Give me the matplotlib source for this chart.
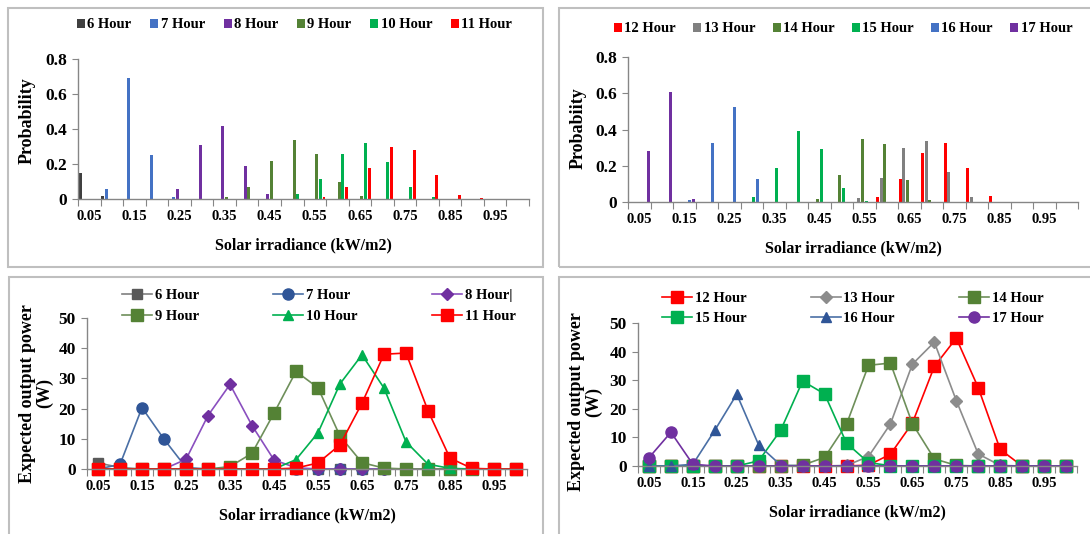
import matplotlib
matplotlib.use("Agg")
import matplotlib.pyplot as plt
from matplotlib.patches import Rectangle
import numpy as np

plt.rcParams['font.family'] = ['Liberation Serif', 'DejaVu Serif']
plt.rcParams['font.weight'] = 'bold'

# solar irradiance categories (kW/m2)
irr = ["0.05", "0.10", "0.15", "0.20", "0.25", "0.30", "0.35", "0.40", "0.45", "0.50",
       "0.55", "0.60", "0.65", "0.70", "0.75", "0.80", "0.85", "0.90", "0.95", "1.00"]

# probability, morning hours
prob_6 = [0.15, 0.02, 0, 0, 0, 0, 0, 0, 0, 0, 0, 0, 0, 0, 0, 0, 0, 0, 0, 0]
prob_7 = [0, 0.06, 0.69, 0.25, 0.01, 0, 0, 0, 0, 0, 0, 0, 0, 0, 0, 0, 0, 0, 0, 0]
prob_8 = [0, 0, 0, 0, 0.06, 0.31, 0.42, 0.19, 0.03, 0, 0, 0, 0, 0, 0, 0, 0, 0, 0, 0]
prob_9 = [0, 0, 0, 0, 0, 0, 0.01, 0.07, 0.22, 0.34, 0.26, 0.095, 0.015, 0, 0, 0, 0, 0, 0, 0]
prob_10 = [0, 0, 0, 0, 0, 0, 0, 0, 0, 0.03, 0.115, 0.26, 0.32, 0.21, 0.07, 0.01, 0, 0, 0, 0]
prob_11 = [0, 0, 0, 0, 0, 0, 0, 0, 0, 0, 0.01, 0.07, 0.18, 0.30, 0.28, 0.135, 0.025, 0.003, 0.002, 0]

# probability, afternoon hours
prob_12 = [0, 0, 0, 0, 0, 0, 0, 0, 0, 0, 0, 0.03, 0.125, 0.27, 0.325, 0.19, 0.035, 0, 0, 0]
prob_13 = [0, 0, 0, 0, 0, 0, 0, 0, 0, 0, 0.02, 0.13, 0.30, 0.335, 0.165, 0.025, 0, 0, 0, 0]
prob_14 = [0, 0, 0, 0, 0, 0, 0, 0, 0.015, 0.15, 0.345, 0.32, 0.12, 0.01, 0, 0, 0, 0, 0, 0]
prob_15 = [0, 0, 0, 0, 0, 0.025, 0.185, 0.39, 0.295, 0.08, 0.005, 0, 0, 0, 0, 0, 0, 0, 0, 0]
prob_16 = [0, 0, 0.01, 0.325, 0.525, 0.125, 0, 0, 0, 0, 0, 0, 0, 0, 0, 0, 0, 0, 0, 0]
prob_17 = [0.28, 0.605, 0.015, 0, 0, 0, 0, 0, 0, 0, 0, 0, 0, 0, 0, 0, 0, 0, 0, 0]

# expected output power (W), morning hours
pow_6 = [2.0, 0.5, 0, 0, 0, 0, 0, 0, 0, 0, 0, 0, 0, 0, 0, 0, 0, 0, 0, 0]
pow_7 = [0, 1.5, 20.3, 9.9, 0.5, 0, 0, 0, 0, 0, 0, 0, 0, 0, 0, 0, 0, 0, 0, 0]
pow_8 = [0, 0, 0, 0, 3.2, 17.7, 28.0, 14.4, 3.0, 0.4, 0, 0, 0, 0, 0, 0, 0, 0, 0, 0]
pow_9 = [0, 0, 0, 0, 0, 0, 0.8, 5.2, 18.5, 32.3, 26.9, 10.9, 2.1, 0.3, 0, 0, 0, 0, 0, 0]
pow_10 = [0, 0, 0, 0, 0, 0, 0, 0, 0, 3.1, 12.0, 28.2, 37.8, 26.8, 9.0, 1.6, 0.2, 0, 0, 0]
pow_11 = [0, 0, 0, 0, 0, 0, 0, 0, 0, 0.3, 2.0, 8.0, 21.8, 38.0, 38.4, 19.3, 3.6, 0.2, 0, 0]

# expected output power (W), afternoon hours
pow_12 = [0, 0, 0, 0, 0, 0, 0, 0, 0, 0, 0.3, 4.1, 15.0, 34.8, 44.7, 27.4, 5.8, 0, 0, 0]
pow_13 = [0, 0, 0, 0, 0, 0, 0, 0, 0, 0.2, 3.3, 14.7, 35.6, 43.3, 22.9, 4.2, 0.2, 0, 0, 0]
pow_14 = [0, 0, 0, 0, 0, 0, 0, 0.3, 3.0, 14.6, 35.2, 36.0, 14.8, 2.5, 0.2, 0, 0, 0, 0, 0]
pow_15 = [0, 0, 0, 0, 0, 1.8, 12.5, 29.7, 25.2, 8.0, 1.2, 0.1, 0, 0, 0, 0, 0, 0, 0, 0]
pow_16 = [0, 0, 0.6, 12.5, 25.1, 7.3, 0.3, 0, 0, 0, 0, 0, 0, 0, 0, 0, 0, 0, 0, 0]
pow_17 = [2.9, 11.8, 0.6, 0, 0, 0, 0, 0, 0, 0, 0, 0, 0, 0, 0, 0, 0, 0, 0, 0]

W, H = 1090, 534
fig = plt.figure(figsize=(W / 100, H / 100), dpi=100)


def frac(left, top, right, bottom):
    return [left / W, 1 - bottom / H, (right - left) / W, (bottom - top) / H]


# panel frames
for l, t, r, b in [(8, 8, 543, 267), (559, 8, 1095, 267), (9, 277, 543, 540), (559, 277, 1095, 540)]:
    fig.add_artist(Rectangle((l / W, 1 - b / H), (r - l) / W, (b - t) / H, transform=fig.transFigure,
                             fill=False, edgecolor='#BFBFBF', linewidth=1.5, zorder=0))

GRID = '#868686'
FS = 10.5


def style_axes(ax, ymax, ystep, fmt):
    n = len(irr)
    ax.set_xlim(-0.5, n - 0.5)
    ax.set_ylim(0, ymax)
    for s in ['top', 'right']:
        ax.spines[s].set_visible(False)
    for s in ['left', 'bottom']:
        ax.spines[s].set_color(GRID)
        ax.spines[s].set_linewidth(1.0)
    ax.set_xticks(np.arange(-0.5, n, 1.0))
    ax.set_xticklabels([])
    ax.set_xticks(np.arange(0, n, 2), minor=True)
    ax.set_xticklabels(irr[0::2], minor=True, fontsize=FS, fontweight='bold')
    ax.tick_params(axis='x', which='major', length=5, color=GRID, direction='out')
    ax.tick_params(axis='x', which='minor', length=0, pad=8)
    yt = np.arange(0, ymax + 1e-9, ystep)
    ax.set_yticks(yt)
    ax.set_yticklabels([fmt(v) for v in yt], fontsize=12.5, fontweight='bold')
    ax.tick_params(axis='y', length=4, color=GRID, direction='out', pad=4)
    ax.set_xlabel("Solar irradiance (kW/m2)", fontsize=11.5, fontweight='bold', labelpad=10)


def pfmt(v):
    return "0" if v == 0 else "%.1f" % v


def wfmt(v):
    return "%d" % v


def bars(ax, series, labels, colors):
    x = np.arange(len(irr))
    k = len(series)
    step = 0.98 / k
    for i, (vals, lab, c) in enumerate(zip(series, labels, colors)):
        ax.bar(x - 0.49 + step * (i + 0.5), vals, width=step * 0.8, color=c, label=lab,
               edgecolor='none')


def lines(ax, series, labels, colors, lcolors, markers, msizes):
    x = np.arange(len(irr))
    for vals, lab, c, lc, m, ms in zip(series, labels, colors, lcolors, markers, msizes):
        ax.plot(x, vals, color=lc, linewidth=1.2, marker=m, markersize=ms,
                markerfacecolor=c, markeredgecolor=c, label=lab, clip_on=False)


def row_major(ax, ncol):
    # matplotlib fills legend columns first; reorder so entries read across rows
    h, l = ax.get_legend_handles_labels()
    nrow = int(np.ceil(len(h) / ncol))
    order = [r * ncol + c for c in range(ncol) for r in range(nrow)]
    return [h[i] for i in order], [l[i] for i in order]


# top-left: probability, 6-11 h
ax1 = fig.add_axes(frac(78, 59, 529, 199))
bars(ax1, [prob_6, prob_7, prob_8, prob_9, prob_10, prob_11],
     ["6 Hour", "7 Hour", "8 Hour", "9 Hour", "10 Hour", "11 Hour"],
     ['#404040', '#4472C4', '#7030A0', '#548235', '#00B050', '#FF0000'])
style_axes(ax1, 0.8, 0.2, pfmt)
ax1.set_ylabel("Probability", fontsize=13, fontweight='bold')
ax1.yaxis.set_label_coords(-0.093, 0.557)
fig.legend(*ax1.get_legend_handles_labels(), loc='center left', bbox_to_anchor=(77 / W, 1 - 25 / H),
           ncol=6, frameon=False, fontsize=10.5, handlelength=0.55, handleheight=0.55,
           handletextpad=0.15, columnspacing=1.3, borderpad=0, borderaxespad=0)

# top-right: probability, 12-17 h
ax2 = fig.add_axes(frac(628, 57, 1078, 202))
bars(ax2, [prob_12, prob_13, prob_14, prob_15, prob_16, prob_17],
     ["12 Hour", "13 Hour", "14 Hour", "15 Hour", "16 Hour", "17 Hour"],
     ['#FF0000', '#808080', '#548235', '#00B050', '#4472C4', '#7030A0'])
style_axes(ax2, 0.8, 0.2, pfmt)
ax2.set_ylabel("Probabiity", fontsize=13, fontweight='bold')
ax2.yaxis.set_label_coords(-0.093, 0.51)
fig.legend(*ax2.get_legend_handles_labels(), loc='center left', bbox_to_anchor=(614 / W, 1 - 29 / H),
           ncol=6, frameon=False, fontsize=10.5, handlelength=0.55, handleheight=0.55,
           handletextpad=0.15, columnspacing=1.2, borderpad=0, borderaxespad=0)

# bottom-left: expected power, 6-11 h
ax3 = fig.add_axes(frac(87, 318, 527, 469))
lines(ax3, [pow_6, pow_7, pow_8, pow_9, pow_10, pow_11],
      ["6 Hour", "7 Hour", "8 Hour|", "9 Hour", "10 Hour", "11 Hour"],
      ['#595959', '#2F5597', '#7030A0', '#548235', '#00B050', '#FF0000'],
      ['#7F7F7F', '#4A6FA5', '#8A4FBF', '#6E8F5A', '#00B050', '#FF0000'],
      ['s', 'o', 'D', 's', '^', 's'], [7, 8, 6, 8, 7.5, 8])
style_axes(ax3, 50, 10, wfmt)
ax3.set_ylabel("Expected output power\n(W)", fontsize=13, fontweight='bold', linespacing=0.95)
ax3.yaxis.set_label_coords(-0.077, 0.50)
fig.legend(*row_major(ax3, 3), loc='center left', bbox_to_anchor=(122 / W, 1 - 306 / H),
           ncol=3, frameon=False, fontsize=10.5, handlelength=2.05, handletextpad=0.2,
           columnspacing=5.1, labelspacing=0.5, borderpad=0, borderaxespad=0)

# bottom-right: expected power, 12-17 h
ax4 = fig.add_axes(frac(638, 323, 1077, 466))
lines(ax4, [pow_12, pow_13, pow_14, pow_15, pow_16, pow_17],
      ["12 Hour", "13 Hour", "14 Hour", "15 Hour", "16 Hour", "17 Hour"],
      ['#FF0000', '#8C8C8C', '#548235', '#00B050', '#2F5597', '#7030A0'],
      ['#FF0000', '#8C8C8C', '#6E8F5A', '#00B050', '#4A6FA5', '#7030A0'],
      ['s', 'D', 's', 's', '^', 'o'], [8, 6.5, 8, 8, 7.5, 8])
style_axes(ax4, 50, 10, wfmt)
ax4.set_ylabel("Expected output power\n(W)", fontsize=13, fontweight='bold', linespacing=0.95)
ax4.yaxis.set_label_coords(-0.082, 0.45)
fig.legend(*row_major(ax4, 3), loc='center left', bbox_to_anchor=(662 / W, 1 - 308.5 / H),
           ncol=3, frameon=False, fontsize=10.5, handlelength=2.05, handletextpad=0.2,
           columnspacing=4.4, labelspacing=0.5, borderpad=0, borderaxespad=0)

fig.savefig("out.png", dpi=100)
